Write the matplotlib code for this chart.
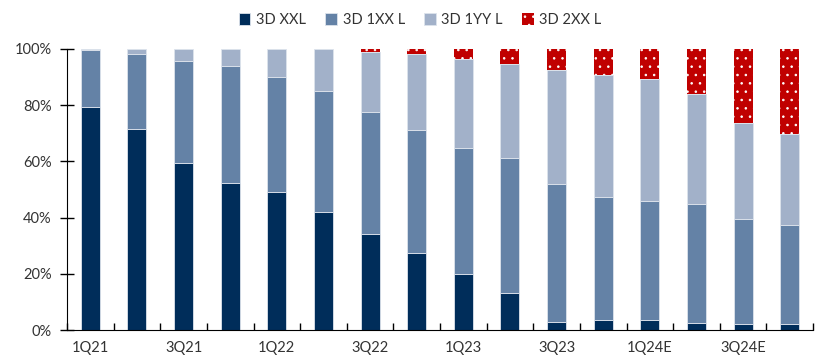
import numpy as np
import matplotlib.pyplot as plt
import matplotlib as mpl

quarters = ['1Q21', '2Q21', '3Q21', '4Q21', '1Q22', '2Q22', '3Q22', '4Q22',
            '1Q23', '2Q23', '3Q23', '4Q23', '1Q24E', '2Q24E', '3Q24E', '4Q24E']

# cumulative tops (%)
top_xxl = [79.3, 71.4, 59.5, 52.4, 49.1, 42.0, 34.2, 27.4,
           20.1, 13.3, 3.0, 3.5, 3.7, 2.6, 2.2, 2.1]
top_1xx = [99.5, 98.3, 95.6, 94.1, 90.2, 85.2, 77.7, 71.3,
           64.9, 61.3, 52.1, 47.5, 45.9, 45.0, 39.4, 37.2]
top_1yy = [100, 100, 100, 100, 100, 100, 99.1, 98.1,
           96.5, 94.7, 92.4, 90.6, 89.5, 83.9, 73.6, 69.9]

xxl = np.array(top_xxl)
x1xx = np.array(top_1xx) - xxl
x1yy = np.array(top_1yy) - np.array(top_1xx)
x2xx = 100 - np.array(top_1yy)

plt.rcParams['font.family'] = ['Lato', 'DejaVu Sans']
plt.rcParams['hatch.linewidth'] = 0.6

fig = plt.figure(figsize=(8.19, 3.6), dpi=100)
ax = fig.add_axes([67 / 819, 1 - 330 / 360, (813 - 67) / 819, (330 - 49) / 360])

x = np.arange(len(quarters))
w = 0.41
ec = '#dde3ec'
ax.bar(x, xxl, w, color='#002d5a', edgecolor=ec, linewidth=0.6, label='3D XXL')
ax.bar(x, x1xx, w, bottom=xxl, color='#6482a6', edgecolor=ec, linewidth=0.6, label='3D 1XX L')
ax.bar(x, x1yy, w, bottom=xxl + x1xx, color='#a2b1c9', edgecolor=ec, linewidth=0.6, label='3D 1YY L')
ax.bar(x, x2xx, w, bottom=xxl + x1xx + x1yy, color='#c00000', edgecolor='white',
       hatch='..', linewidth=0, label='3D 2XX L')

ax.set_xlim(-0.5, len(quarters) - 0.5)
ax.set_ylim(0, 100)
ax.set_yticks([0, 20, 40, 60, 80, 100])
ax.set_yticklabels(['0%', '20%', '40%', '60%', '80%', '100%'])
ax.set_xticks(x[::2])
ax.set_xticklabels(quarters[::2])
ax.set_xticks(np.arange(-0.5, len(quarters), 1), minor=True)

for s in ['top', 'right']:
    ax.spines[s].set_visible(False)
ax.spines['left'].set_color('black')
ax.spines['bottom'].set_color('black')
ax.tick_params(axis='y', direction='inout', length=10, width=1, colors='black',
               labelcolor='#333333', labelsize=10.5, pad=6)
ax.tick_params(axis='x', which='major', length=0, labelcolor='#333333', labelsize=10.5, pad=8)
ax.tick_params(axis='x', which='minor', direction='in', length=5, width=1, color='black')

fig.legend(loc='upper center', bbox_to_anchor=(0.513, 1.0), ncol=4, frameon=False,
           fontsize=10.5, handlelength=0.8, handleheight=0.8, handletextpad=0.4,
           columnspacing=1.3, labelcolor='#333333')

fig.savefig('out.png', dpi=100)
